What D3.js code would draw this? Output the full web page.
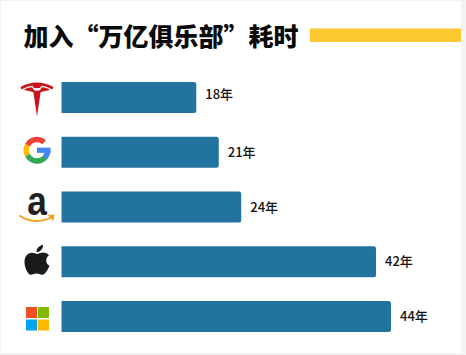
<!DOCTYPE html>
<html><head><meta charset="utf-8">
<script src="https://cdn.jsdelivr.net/npm/d3@7"></script>
<style>html,body{margin:0;padding:0;background:#fff;overflow:hidden}svg{display:block}</style>
</head><body><svg id="c" width="466" height="355"></svg>
<script>
const companies = ["Tesla","Google","Amazon","Apple","Microsoft"];
const years = [18,21,24,42,44];
const titleText = "加入“万亿俱乐部”耗时";
const unit = "年";

const svg = d3.select("#c");
svg.append("rect").attr("width",466).attr("height",355).attr("fill","#f3f3f3");
svg.append("rect").attr("x",1).attr("y",1).attr("width",460).attr("height",352).attr("fill","#fff");

const x = d3.scaleLinear().domain([0,44]).range([61.5,391]);
const y = d3.scaleBand().domain(companies).range([82,332]).paddingInner(0.434).paddingOuter(0);

svg.append("text").text(titleText).attr("x",23.5).attr("y",45.5)
  .attr("font-family","'Noto Sans CJK SC'").attr("font-weight",900).attr("font-size",25).attr("fill","#0a0a0a");
svg.append("rect").attr("x",310).attr("y",28.5).attr("width",151).attr("height",13.5).attr("fill","#fbc82f");

svg.selectAll("path.bar").data(companies).join("path").attr("class","bar")
  .attr("fill","#22739f")
  .attr("d",(c,i)=>{
    const x0=x(0),x1=x(years[i]),y0=y(c),h=y.bandwidth(),r=2.5;
    return `M${x0},${y0}H${x1-r}Q${x1},${y0} ${x1},${y0+r}V${y0+h-r}Q${x1},${y0+h} ${x1-r},${y0+h}H${x0}Z`;
  });

svg.selectAll("text.val").data(companies).join("text").attr("class","val")
  .attr("x",(c,i)=>x(years[i])+9)
  .attr("y",c=>y(c)+y.bandwidth()/2+4.5-(c==="Tesla"?3:0))
  .attr("font-family","'Noto Sans CJK SC'").attr("font-weight",500).attr("font-size",13).attr("fill","#111")
  .text((c,i)=>years[i]+unit);

function g(c){return svg.append("g").attr("transform",`translate(37,${y(c)+y.bandwidth()/2})`);}

// Tesla
const t=g("Tesla");
t.append("path").attr("fill","#c8141c").attr("d","M-16.5,-10.5C-6,-16.5 6,-16.5 16.5,-10.5L15.5,-8C11,-10.6 7,-11.6 4.5,-11.8L3,-9.4C1,-9.2 -1,-9.2 -3,-9.4L-4.5,-11.8C-7,-11.6 -11,-10.6 -15.5,-8Z");
t.append("path").attr("fill","#c8141c").attr("d","M-13,-7.6C-10,-9.6 -7,-10.2 -4.8,-10.2C-4,-8.6 -3,-7.4 -2.6,-7C-1,-6.8 1,-6.8 2.6,-7C3,-7.4 4,-8.6 4.8,-10.2C7,-10.2 10,-9.6 13,-7.6C10,-7 6.5,-6.4 3.6,-5.2L0,19L-3.6,-5.2C-6.5,-6.4 -10,-7 -13,-7.6Z");

// Google
const gg=g("Google").attr("transform",`translate(37,${y("Google")+y.bandwidth()/2-2})`);
const arc=d3.arc().innerRadius(8).outerRadius(13.5);
const deg=Math.PI/180;
gg.append("path").attr("fill","#ea4335").attr("d",arc({startAngle:-62*deg,endAngle:42*deg}));
gg.append("path").attr("fill","#fbbc05").attr("d",arc({startAngle:-118*deg,endAngle:-62*deg}));
gg.append("path").attr("fill","#34a853").attr("d",arc({startAngle:-232*deg,endAngle:-118*deg}));
gg.append("path").attr("fill","#4285f4").attr("d",arc({startAngle:90*deg,endAngle:132*deg}));
gg.append("rect").attr("x",0).attr("y",-2.6).attr("width",13.5).attr("height",5.2).attr("fill","#4285f4");

// Amazon
const a=g("Amazon");
a.append("text").text("a").attr("text-anchor","middle")
 .attr("transform","translate(0,8) scale(0.86,1)")
 .attr("font-family","'Liberation Sans'").attr("font-weight",700).attr("font-size",41).attr("fill","#231f20");
a.append("path").attr("fill","none").attr("stroke","#f2a21d").attr("stroke-width",2).attr("d","M-17.5,8.5C-8,15.5 6,15.5 15,10");
a.append("path").attr("fill","#f2a21d").attr("d","M10.5,8L17.5,7.5L16.5,14Z");

// Apple
const p=g("Apple");
p.append("path").attr("fill","#1b1a1b").attr("d","M2.5,-8.5C6,-10 9.5,-9.5 12,-6.5C8.5,-4 8,1.5 12.5,4C11,8 8,13 5,13C3,13 2,11.8 -0.5,11.8C-3,11.8 -4,13 -6,13C-9.5,13 -12.5,5.5 -12.5,0C-12.5,-6 -8.5,-9 -5,-9C-3,-9 -1,-7.8 0,-7.8C0.8,-7.8 1.5,-8.2 2.5,-8.5Z");
p.append("path").attr("fill","#1b1a1b").attr("d","M-0.5,-9.5C-0.8,-13 2,-16 6,-17C6.2,-13 3.5,-10 -0.5,-9.5Z");

// Microsoft
const m=g("Microsoft");
[[-11,-9.5,"#f25022"],[1,-9.5,"#7fba00"],[-11,3,"#00a4ef"],[1,3,"#ffb900"]].forEach(d=>{
  m.append("rect").attr("x",d[0]).attr("y",d[1]).attr("width",11).attr("height",11).attr("fill",d[2]);
});
</script></body></html>
